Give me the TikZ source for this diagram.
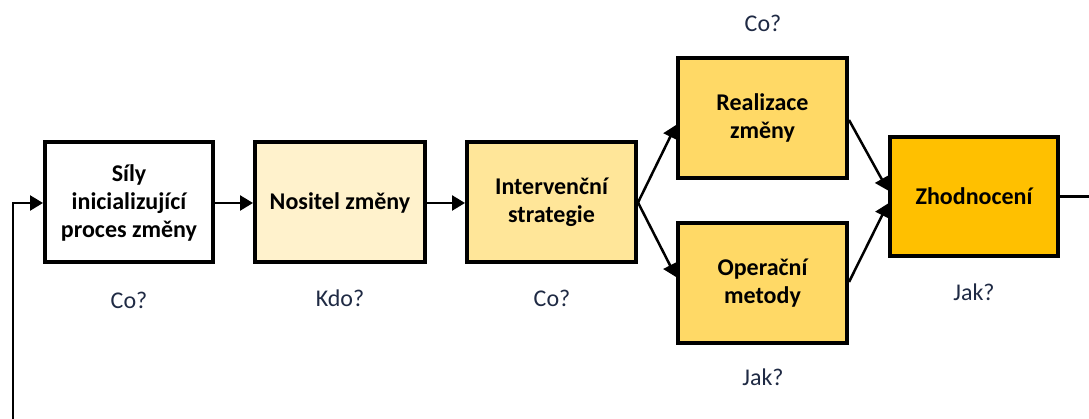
\documentclass[tikz,border=0pt]{standalone}
\usepackage{fontspec}
\setmainfont{Carlito}
\usetikzlibrary{arrows.meta,shadows,calc}
\definecolor{fillA}{HTML}{FFF2CC}
\definecolor{fillB}{HTML}{FFE699}
\definecolor{fillC}{HTML}{FFD966}
\definecolor{fillD}{HTML}{FFC000}
\definecolor{asktext}{HTML}{1F2A44}
\tikzset{
  stagebox/.style={draw=black, line width=4pt, minimum width=168pt, minimum height=120pt,
    align=center, inner sep=2pt, font=\fontsize{24}{28}\selectfont\bfseries,
    drop shadow={shadow xshift=1.5pt, shadow yshift=-1.5pt, opacity=0.35, fill=black}},
  question/.style={font=\fontsize{24}{28}\selectfont, text=asktext, inner sep=0pt},
  flow/.style={line width=2.5pt, -{Triangle[length=13pt,width=15pt]}},
}
\begin{document}
\begin{tikzpicture}[x=1pt,y=1pt]
  \useasboundingbox (0,0) rectangle (1089,419);

  % stages of the change process
  \node[stagebox, fill=white] (sily) at (129,216.5) {Síly\\inicializující\\proces změny};
  \node[stagebox, fill=fillA, minimum width=170pt] (nositel) at (340,216.5) {Nositel změny};
  \node[stagebox, fill=fillB, minimum width=169pt] (strategie) at (551.5,216.5) {Intervenční\\strategie};
  \node[stagebox, fill=fillC, minimum width=169pt] (realizace) at (762.5,301) {Realizace\\změny};
  \node[stagebox, fill=fillC, minimum width=169pt] (metody) at (762.5,136) {Operační\\metody};
  \node[stagebox, fill=fillD, minimum height=119pt] (zhodnoceni) at (974,222.5) {Zhodnocení};

  % guiding questions
  \node[question] (q1) at (129,119) {Co?};
  \node[question] (q2) at (340,121) {Kdo?};
  \node[question] (q3) at (552,121) {Co?};
  \node[question] (q4) at (763,396) {Co?};
  \node[question] (q5) at (974,127) {Jak?};
  \node[question] (q6) at (763,42) {Jak?};

  % connection points
  \coordinate (fanout) at (strategie.east);
  \coordinate (inR) at ($(realizace.west)+(0,-7)$);
  \coordinate (inM) at ($(metody.west)+(0,6)$);
  \coordinate (outR) at ($(realizace.east)+(0,-2)$);
  \coordinate (outM) at ($(metody.east)+(0,1)$);
  \coordinate (inZ1) at ($(zhodnoceni.west)+(0,6)$);
  \coordinate (inZ2) at ($(zhodnoceni.west)+(0,-7)$);
  \coordinate (exit) at (1089,222.5);
  \coordinate (loopbottom) at (13,0);
  \coordinate (loopcorner) at (13,216);

  % main flow
  \draw[flow] (sily.east |- loopcorner) -- (nositel.west |- loopcorner);
  \draw[flow] (nositel.east |- loopcorner) -- (strategie.west |- loopcorner);
  \draw[flow] (fanout) -- (inR);
  \draw[flow] (fanout) -- (inM);
  \draw[flow] (outR) -- (inZ1);
  \draw[flow] (outM) -- (inZ2);
  \draw[line width=2.5pt] (zhodnoceni.east) -- (exit);

  % feedback loop back to the start
  \draw[flow] (loopbottom) -- (loopcorner) -- (sily.west |- loopcorner);
\end{tikzpicture}
\end{document}
